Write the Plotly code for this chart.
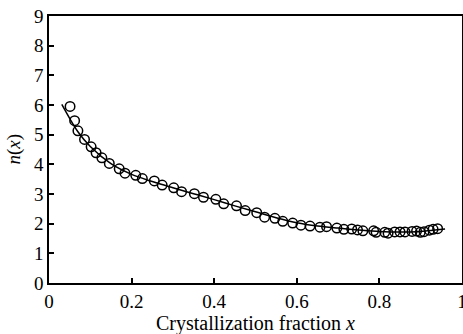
import plotly.graph_objects as go

# measured points (open circles)
x_pts = [0.051, 0.062, 0.070, 0.086, 0.102, 0.114, 0.128, 0.146, 0.170, 0.184,
         0.210, 0.226, 0.255, 0.274, 0.302, 0.321, 0.352, 0.374, 0.404, 0.423,
         0.454, 0.475, 0.503, 0.522, 0.547, 0.566, 0.590, 0.610, 0.632, 0.656,
         0.672, 0.697, 0.714, 0.733, 0.747, 0.760, 0.786, 0.792, 0.813, 0.821,
         0.837, 0.850, 0.862, 0.879, 0.890, 0.899, 0.908, 0.921, 0.930, 0.941]
n_pts = [5.95, 5.47, 5.13, 4.84, 4.59, 4.39, 4.22, 4.03, 3.85, 3.70,
         3.63, 3.52, 3.44, 3.30, 3.21, 3.08, 3.01, 2.89, 2.82, 2.67,
         2.60, 2.44, 2.37, 2.22, 2.18, 2.08, 2.02, 1.95, 1.92, 1.88,
         1.90, 1.85, 1.81, 1.82, 1.79, 1.76, 1.76, 1.71, 1.71, 1.68,
         1.72, 1.72, 1.72, 1.74, 1.75, 1.71, 1.73, 1.78, 1.81, 1.83]

# fitted curve (solid line)
x_fit = [0.031, 0.05, 0.07, 0.10, 0.15, 0.20, 0.25, 0.30, 0.35, 0.40, 0.45,
         0.50, 0.55, 0.60, 0.65, 0.70, 0.75, 0.80, 0.85, 0.90, 0.959]
n_fit = [6.02, 5.55, 5.10, 4.60, 4.02, 3.66, 3.42, 3.21, 3.01, 2.81, 2.60,
         2.40, 2.20, 2.03, 1.92, 1.85, 1.79, 1.74, 1.72, 1.74, 1.82]

x_ticks = [0, 0.2, 0.4, 0.6, 0.8, 1]
x_tick_labels = ["0", "0.2", "0.4", "0.6", "0.8", "1"]
y_ticks = [0, 1, 2, 3, 4, 5, 6, 7, 8, 9]

font = "Liberation Serif"

fig = go.Figure()
fig.add_trace(go.Scatter(x=x_fit, y=n_fit, mode="lines",
                         line=dict(color="black", width=1.5, shape="spline"),
                         showlegend=False))
fig.add_trace(go.Scatter(x=x_pts, y=n_pts, mode="markers",
                         marker=dict(symbol="circle-open", size=9.5, color="black",
                                     line=dict(width=1.5, color="black")),
                         showlegend=False))

axis_common = dict(showline=True, linecolor="black", linewidth=1.5, mirror=True,
                   ticks="inside", ticklen=5, tickwidth=1.5, tickcolor="black",
                   showgrid=False, zeroline=False, automargin=False,
                   tickfont=dict(family=font, size=19, color="black"))

fig.update_xaxes(range=[0, 1], tickvals=x_ticks, ticktext=x_tick_labels,
                 ticklabeloverflow="allow", **axis_common)
fig.update_yaxes(range=[0, 9], tickvals=y_ticks, **axis_common)

fig.add_annotation(text="Crystallization fraction <i>x</i>", xref="paper", yref="paper",
                   x=0.5, y=0, yshift=-40, showarrow=False,
                   xanchor="center", yanchor="middle",
                   font=dict(family=font, size=20, color="black"))
fig.add_annotation(text="<i>n</i>(<i>x</i>)", xref="paper", yref="paper",
                   x=0.0, xshift=-36, y=0.5, textangle=-90, showarrow=False,
                   xanchor="center", yanchor="middle",
                   font=dict(family=font, size=19, color="black"))

fig.update_layout(width=463, height=334,
                  margin=dict(l=49, r=1, t=16, b=51),
                  plot_bgcolor="white", paper_bgcolor="white",
                  font=dict(family=font, color="black"))

fig.write_html("out.html", config={"displayModeBar": False},
               post_script="document.body.style.margin='0';document.body.style.overflow='hidden';")
